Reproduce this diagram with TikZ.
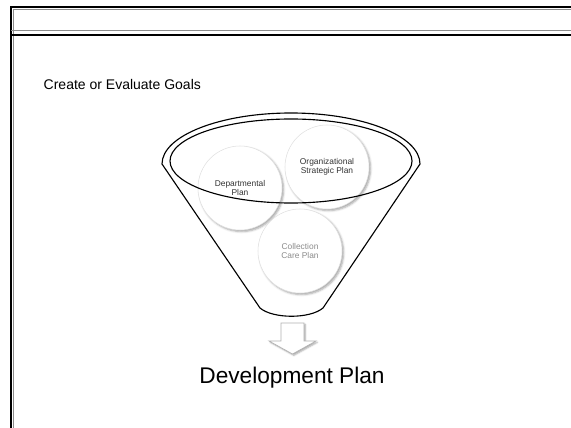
\documentclass[tikz,border=0pt]{standalone}
\usepackage{fontspec}
\setmainfont{Liberation Sans}
\usetikzlibrary{shadows.blur, positioning}
\tikzset{
  plan/.style={circle,draw=black!12,fill=white,minimum size=63pt,inner sep=0pt,align=center,
    font=\fontsize{6.3}{7.2}\selectfont,text=black!80,
    blur shadow={shadow xshift=1.2pt,shadow yshift=-1.2pt,shadow blur radius=1.5pt,shadow opacity=35}},
  plan_f/.style={plan,text=black!45},
  funnel/.style={draw=black,line width=.85pt},
  frameline/.style={line width=1.8pt,black},
  frameshade/.style={line width=.6pt,black!45},
  downarrow/.style={draw=black!30,fill=white,line width=.5pt,
    blur shadow={shadow xshift=1pt,shadow yshift=-1pt,shadow blur radius=1.2pt,shadow opacity=35}},
}
\begin{document}
\begin{tikzpicture}[x=0.75pt,y=-0.75pt]
	    \useasboundingbox (0,0) rectangle (571,428);
	    % slide frame
	    \draw[frameshade] (13.5,428) -- (13.5,9.8) -- (571,9.8);
	    \draw[frameline] (11,428) -- (11,7) -- (571,7);
	    \draw[frameshade] (11,30.5) -- (571,30.5);
	    \draw[black,line width=1pt] (11,35) -- (571,35);
	    \node[anchor=west,font=\fontsize{10.5}{13}\selectfont] (goals) at (39,84) {Create or Evaluate Goals};
	    % plans in the funnel
	    \node[plan] (dept) at (240,188) {Departmental\\Plan};
	    \node[plan] (org) at (327,167) {Organizational\\Strategic Plan};
	    \node[plan_f] (care) at (300,251) {Collection\\Care Plan};
	    \draw[funnel] (162,164) arc[start angle=180,end angle=360,x radius=129,y radius=51]
	    	-- (323,308) .. controls (310,319) and (273,319) .. (260,308) -- cycle;
	    \draw[funnel] (291,161) ellipse[x radius=121,y radius=42];
	    % result
	    \draw[downarrow] (281,323) -- (304,323) -- (304,341) -- (316,341) -- (292.5,354)
	    	-- (269,341) -- (281,341) -- cycle;
	    \node[font=\fontsize{17}{20}\selectfont] (devplan) at (292,378) {Development Plan};
	\end{tikzpicture}
\end{document}
